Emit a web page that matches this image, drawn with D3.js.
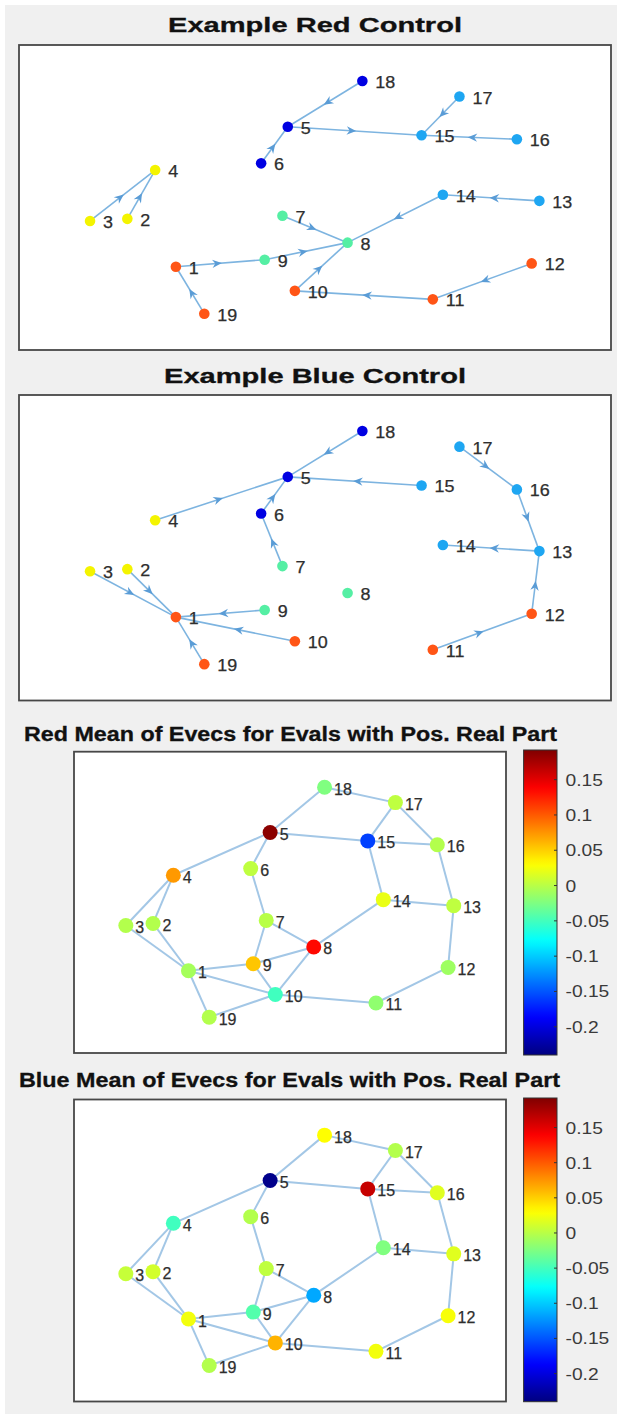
<!DOCTYPE html>
<html>
<head>
<meta charset="utf-8">
<script src="https://cdn.jsdelivr.net/npm/d3@7"></script>
<style>
  body { margin: 0; background: #ffffff; }
  svg { display: block; font-family: "Liberation Sans", Arial, Helvetica, sans-serif; }
</style>
</head>
<body>
<svg id="fig" width="621" height="1414"></svg>
<script>
// ---------------- DATA ----------------
const nodeIds = [1,2,3,4,5,6,7,8,9,10,11,12,13,14,15,16,17,18,19];
// shared graph layout (normalised axis units, y up)
const layoutX = [26.5,18.3,12.0,23.0,45.4,40.9,44.5,55.5,41.5,46.6,69.9,86.6,87.9,71.6,68.0,84.1,74.4,58.0,31.3];
const layoutY = [27.3,43.0,42.3,59.0,73.2,61.2,44.0,35.2,29.6,19.4,16.6,28.4,48.9,50.9,70.4,69.1,83.1,88.2,11.9];
// community index per node for the control graphs
const nodeGroup = [4,3,3,3,0,0,2,2,2,4,4,4,1,1,1,1,1,0,4];
// directed edges [source, target]
const redControlEdges = [[18,5],[5,15],[17,15],[16,15],[6,5],[3,4],[2,4],[7,8],[9,8],[1,9],[14,8],[13,14],[10,8],[11,10],[12,11],[19,1]];
const blueControlEdges = [[18,5],[4,5],[15,5],[6,5],[7,6],[17,16],[16,13],[13,14],[12,13],[11,12],[3,1],[2,1],[9,1],[10,1],[19,1]];
// undirected network edges
const networkEdges = [[18,5],[18,17],[17,15],[17,16],[5,15],[15,16],[5,4],[5,6],[4,3],[4,2],[3,1],[2,1],[6,7],[7,9],[7,8],[15,14],[14,13],[16,13],[14,8],[8,9],[8,10],[9,1],[9,10],[1,10],[1,19],[19,10],[10,11],[11,12],[12,13]];
// mean eigenvector values per node
const redMean  = [-0.008,-0.002,-0.002,0.073,0.187,0.003,0.000,0.135,0.054,-0.051,-0.017,-0.011,0.003,0.021,-0.159,-0.002,0.003,-0.024,-0.002];
const blueMean = [0.025,0.011,0.006,-0.051,-0.235,-0.002,0.003,-0.115,-0.043,0.062,0.025,0.027,0.017,-0.024,0.162,0.017,-0.002,0.030,-0.002];
const colorDomain = [-0.24, 0.192];
const colorbarTicks = [0.15,0.1,0.05,0,-0.05,-0.1,-0.15,-0.2];
const tickLabels = ["0.15","0.1","0.05","0","-0.05","-0.1","-0.15","-0.2"];
const titles = ["Example Red Control","Example Blue Control",
  "Red Mean of Evecs for Evals with Pos. Real Part","Blue Mean of Evecs for Evals with Pos. Real Part"];

// ---------------- STYLE / LAYOUT ----------------
const groupColors = ["#0000e2","#1ea6f2","#55efa4","#f4f400","#ff5516"];
const svg = d3.select("#fig");

svg.append("rect").attr("x",5).attr("y",5).attr("width",612).attr("height",1409).attr("fill","#f0f0f0");

function jet(t){
  t = Math.max(0, Math.min(1, t));
  const c = v => Math.round(255*Math.max(0, Math.min(1, v)));
  return d3.rgb(c(1.5-Math.abs(4*t-3)), c(1.5-Math.abs(4*t-2)), c(1.5-Math.abs(4*t-1))).toString();
}
const colorT = d3.scaleLinear().domain(colorDomain).range([0,1]);

const defs = svg.append("defs");
const grad = defs.append("linearGradient").attr("id","jetgrad")
  .attr("x1",0).attr("y1",1).attr("x2",0).attr("y2",0);
d3.range(0,1.0001,0.02).forEach(t => grad.append("stop").attr("offset",t).attr("stop-color",jet(t)));

function stretch(sel, k){
  sel.each(function(){
    const w = this.getComputedTextLength();
    d3.select(this).attr("textLength", w*k).attr("lengthAdjust","spacingAndGlyphs");
  });
}

const panels = [
  {title: titles[0], box:[19,45,611,350], tx:315, ty:31.7, tw:294, type:"dir", edges: redControlEdges},
  {title: titles[1], box:[19,395,611,700.5], tx:315, ty:383.3, tw:302, type:"dir", edges: blueControlEdges},
  {title: titles[2], box:[74,751.7,506,1053], tx:290.5, ty:740.7, tw:533, type:"val", edges: networkEdges, values: redMean, cbar:[523.6,750,557,1055]},
  {title: titles[3], box:[74,1099.5,506,1401.5], tx:289.5, ty:1087.3, tw:541, type:"val", edges: networkEdges, values: blueMean, cbar:[523.6,1098,557,1401.7]}
];

panels.forEach(p => {
  const [x0,y0,x1,y1] = p.box;
  const g = svg.append("g");
  g.append("rect").attr("x",x0).attr("y",y0).attr("width",x1-x0).attr("height",y1-y0)
    .attr("fill","#ffffff").attr("stroke","#474747").attr("stroke-width",1.8);
  g.append("text").attr("x",p.tx).attr("y",p.ty).attr("text-anchor","middle")
    .attr("font-size",20).attr("font-weight","bold").attr("fill","#111")
    .attr("stroke","#111").attr("stroke-width",0.3)
    .attr("textLength",p.tw).attr("lengthAdjust","spacingAndGlyphs").text(p.title);

  const x = d3.scaleLinear().domain([0,100]).range([x0, x1]);
  const y = d3.scaleLinear().domain([0,100]).range([y1, y0]);
  const nodes = nodeIds.map((id,i) => ({id, px:x(layoutX[i]), py:y(layoutY[i]), i}));
  const byId = new Map(nodes.map(n => [n.id, n]));
  const isDir = p.type === "dir";

  g.selectAll("line.edge").data(p.edges).join("line").attr("class","edge")
    .attr("x1",d=>byId.get(d[0]).px).attr("y1",d=>byId.get(d[0]).py)
    .attr("x2",d=>byId.get(d[1]).px).attr("y2",d=>byId.get(d[1]).py)
    .attr("stroke", isDir ? "#7db4e0" : "#a3c7e6").attr("stroke-width", isDir ? 1.6 : 2);

  if (isDir) {
    g.selectAll("path.arrow").data(p.edges).join("path").attr("class","arrow")
      .attr("d","M1.5,0 L-8,-4.2 L-5,0 L-8,4.2 Z")
      .attr("fill","#5a9cd6")
      .attr("transform", d => {
        const s = byId.get(d[0]), t = byId.get(d[1]);
        const mx = (s.px+t.px)/2, my = (s.py+t.py)/2;
        const a = Math.atan2(t.py-s.py, t.px-s.px)*180/Math.PI;
        return `translate(${mx},${my}) rotate(${a})`;
      });
  }

  g.selectAll("circle.node").data(nodes).join("circle").attr("class","node")
    .attr("cx",d=>d.px).attr("cy",d=>d.py).attr("r", isDir ? 5.3 : 7.5)
    .attr("fill", d => isDir ? groupColors[nodeGroup[d.i]] : jet(colorT(p.values[d.i])));

  const lab = g.selectAll("text.lab").data(nodes).join("text").attr("class","lab")
    .attr("x", d => d.px + (isDir ? 13 : 9.5)).attr("y", d => d.py + (isDir ? 1.5 : 2))
    .attr("dominant-baseline","central").attr("font-size", 16)
    .attr("fill","#2e2e2e").attr("stroke","#2e2e2e").attr("stroke-width",0.25).text(d => d.id);
  stretch(lab, isDir ? 1.12 : 1.0);

  if (p.cbar) {
    const [c0,cy0,c1,cy1] = p.cbar;
    const cs = d3.scaleLinear().domain(colorDomain).range([cy1, cy0]);
    g.append("rect").attr("x",c0).attr("y",cy0).attr("width",c1-c0).attr("height",cy1-cy0)
      .attr("fill","url(#jetgrad)").attr("stroke","#333").attr("stroke-width",1);
    g.selectAll("line.ctick").data(colorbarTicks).join("line").attr("class","ctick")
      .attr("x1",c1-3).attr("x2",c1).attr("y1",d=>cs(d)).attr("y2",d=>cs(d))
      .attr("stroke","#333").attr("stroke-width",1);
    const tl = g.selectAll("text.clab").data(colorbarTicks).join("text").attr("class","clab")
      .attr("x",c1+8.5).attr("y",d=>cs(d)+0.5).attr("dominant-baseline","central")
      .attr("font-size",16).attr("fill","#3a3a3a").text((d,i)=>tickLabels[i]);
    stretch(tl, 1.2);
  }
});
</script>
</body>
</html>
